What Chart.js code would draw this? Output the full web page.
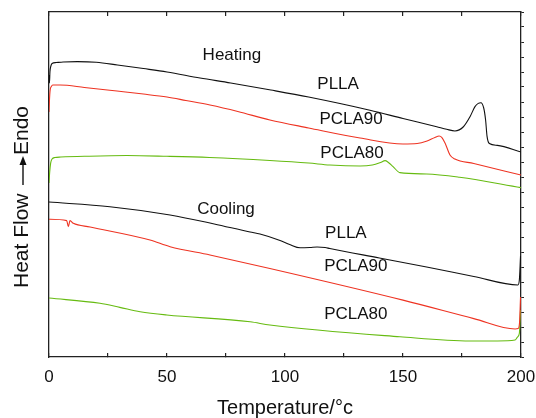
<!DOCTYPE html>
<html>
<head>
<meta charset="utf-8">
<script src="https://cdn.jsdelivr.net/npm/chart.js@4.4.1/dist/chart.umd.min.js"></script>
<style>
  html, body { margin: 0; padding: 0; background: #fff; }
  canvas { display: block; }
</style>
</head>
<body>
<canvas id="dsc" width="536" height="418"></canvas>
<script>
// temperature (°C) and heat flow (arbitrary units, endo up)
const heatingPLLA = [
    [0, 18.8], [0.2, 18.27], [0.4, 19.0], [0.8, 19.4], [1.3, 19.57], [3, 19.63],
    [6, 19.67], [12, 19.69], [20, 19.65], [29, 19.47], [40, 19.23], [50, 19.0],
    [64, 18.6], [77, 18.27], [94, 17.8], [110, 17.33], [136, 16.45], [150, 15.9],
    [164.3, 15.35], [168.5, 15.18], [172, 15.07], [175.6, 15.35], [178.4, 16.02],
    [180.5, 16.69], [181.9, 16.91], [183, 16.95], [184.2, 16.6], [185.0, 15.8],
    [185.6, 14.73], [186.6, 14.23], [190, 14.11], [200, 13.67]
];
const heatingPCLA90 = [
    [0, 16.33], [0.2, 17.13], [0.5, 17.8], [1, 18.03], [1.6, 18.13], [4.7, 18.13],
    [15, 17.97], [28.8, 17.73], [40, 17.53], [50, 17.33], [58, 17.1], [68.2, 16.8],
    [80, 16.37], [93.6, 15.8], [110, 15.27], [131.8, 14.6], [150, 14.2], [156, 14.23],
    [160.2, 14.4], [163.5, 14.63], [165.3, 14.73], [166.5, 14.63], [167.8, 14.27],
    [169.9, 13.47], [172, 13.2], [180, 12.9], [200, 12.13]
];
const heatingPCLA80 = [
    [0, 11.6], [0.3, 12.33], [0.7, 12.93], [1.3, 13.2], [2.5, 13.3], [5, 13.33],
    [15, 13.38], [33, 13.43], [50, 13.38], [68, 13.3], [93.6, 13.1], [110, 12.93],
    [119, 12.8], [131.8, 12.73], [137, 12.8], [140.5, 12.97], [142.4, 13.09],
    [143.8, 12.97], [145.8, 12.69], [148.7, 12.29], [160, 12.2], [174, 11.98],
    [200, 11.29]
];
const coolingPLLA = [
    [0, 10.33], [25.8, 10.02], [51.3, 9.47], [70, 8.87], [85.2, 8.33], [89.4, 8.2],
    [97.9, 7.77], [102, 7.5], [106.4, 7.28], [110.6, 7.3], [113.6, 7.33], [117, 7.3],
    [119, 7.23], [140, 6.6], [160, 6.0], [180, 5.37], [198.7, 4.8], [199.3, 5.13],
    [199.8, 6.73]
];
const coolingPCLA90 = [
    [0, 9.18], [7.5, 9.09], [8.2, 8.69], [8.9, 9.09], [10.3, 8.91], [17.4, 8.67],
    [42.8, 7.8], [51.3, 7.35], [68.2, 6.8], [93.6, 5.9], [150, 3.79], [180, 2.56],
    [197.5, 1.87], [198.8, 1.9], [199.4, 2.33], [199.8, 4.0]
];
const coolingPCLA80 = [
    [0, 3.93], [21.6, 3.58], [30, 3.31], [38.6, 3.02], [49.9, 2.8], [85.2, 2.35],
    [93.6, 2.13], [148.7, 1.35], [178.4, 1.07], [190, 1.07], [197.5, 1.13],
    [198.5, 1.33], [199.3, 1.58], [199.8, 3.13]
];
const xTicks = [0, 50, 100, 150, 200];

// text annotations [text, temperature, heat flow]
const labels = [
    ["Heating", 77.5, 20.13],
    ["PLLA", 122.5, 18.2],
    ["PCLA90", 128, 15.87],
    ["PCLA80", 128.4, 13.6],
    ["Cooling", 75, 9.87],
    ["PLLA", 125.8, 8.27],
    ["PCLA90", 130, 6.07],
    ["PCLA80", 130, 2.87]
];

const FONT = "'Liberation Sans', Arial, sans-serif";
const BLACK = "#111111";
const RED = "#ee3322";
const GREEN = "#66bb11";

function toPoints(arr) {
    return arr.map((p) => ({ x: p[0], y: p[1] }));
}
function curve(data, color) {
    return {
        data: toPoints(data),
        borderColor: color,
        borderWidth: 1.1,
        pointRadius: 0,
        cubicInterpolationMode: "monotone",
        fill: false,
    };
}

const textPlugin = {
    id: "dscText",
    afterDraw(chart) {
        const ctx = chart.ctx;
        const xs = chart.scales.x;
        const ys = chart.scales.y;
        ctx.save();
        ctx.fillStyle = "#111";
        ctx.font = "17px " + FONT;
        ctx.textAlign = "center";
        ctx.textBaseline = "middle";
        labels.forEach((l) => {
            ctx.fillText(l[0], xs.getPixelForValue(l[1]), ys.getPixelForValue(l[2]));
        });
        // y axis title: Heat Flow -> Endo
        ctx.translate(22, 0);
        ctx.rotate(-Math.PI / 2);
        ctx.font = "21px " + FONT;
        ctx.textAlign = "left";
        ctx.fillText("Heat Flow", -288, 0);
        ctx.strokeStyle = "#111";
        ctx.lineWidth = 1.4;
        ctx.beginPath();
        ctx.moveTo(-185, 1);
        ctx.lineTo(-163, 1);
        ctx.stroke();
        ctx.beginPath();
        ctx.moveTo(-165, -2.5);
        ctx.lineTo(-156, 1);
        ctx.lineTo(-165, 4.5);
        ctx.closePath();
        ctx.fill();
        ctx.fillText("Endo", -155, 0);
        ctx.restore();
    },
};

new Chart(document.getElementById("dsc"), {
    type: "line",
    data: {
        datasets: [
            curve(heatingPLLA, BLACK),
            curve(heatingPCLA90, RED),
            curve(heatingPCLA80, GREEN),
            curve(coolingPLLA, BLACK),
            curve(coolingPCLA90, RED),
            curve(coolingPCLA80, GREEN),
        ],
    },
    options: {
        responsive: false,
        animation: false,
        devicePixelRatio: 1,
        layout: { padding: 0 },
        plugins: { legend: { display: false }, tooltip: { enabled: false } },
        scales: {
            x: {
                type: "linear",
                position: "bottom",
                min: 0,
                max: 200,
                ticks: {
                    stepSize: 25,
                    padding: 14,
                    maxRotation: 0,
                    color: "#111",
                    font: { family: FONT, size: 17 },
                    callback: (v) => (xTicks.includes(v) ? v : ""),
                },
                grid: { drawOnChartArea: false, tickLength: -4, color: "#222", lineWidth: 1.2 },
                border: { color: "#222", width: 1.3 },
                title: {
                    display: true,
                    text: "Temperature/°c",
                    color: "#111",
                    font: { family: FONT, size: 20 },
                    padding: { top: 0, bottom: -2 },
                },
                afterFit: (s) => {
                    s.height = 61;
                    s.paddingLeft = 0;
                    s.paddingRight = 0;
                },
            },
            x2: {
                type: "linear",
                position: "top",
                min: 0,
                max: 200,
                ticks: { stepSize: 25, display: false },
                grid: { drawOnChartArea: false, tickLength: -4, color: "#222", lineWidth: 1.2 },
                border: { color: "#222", width: 1.3 },
                afterFit: (s) => {
                    s.height = 12;
                    s.paddingLeft = 0;
                    s.paddingRight = 0;
                },
            },
            y: {
                type: "linear",
                position: "left",
                min: 0,
                max: 23,
                ticks: { display: false },
                grid: { display: false },
                border: { color: "#222", width: 1.3 },
                afterFit: (s) => { s.width = 49; },
            },
            y2: {
                type: "linear",
                position: "right",
                min: 0,
                max: 23,
                ticks: { stepSize: 1, display: false },
                grid: { drawOnChartArea: false, tickLength: 3, color: "#222", lineWidth: 1 },
                border: { color: "#222", width: 1.3 },
                afterFit: (s) => { s.width = 15; },
            },
        },
    },
    plugins: [textPlugin],
});
</script>
</body>
</html>
